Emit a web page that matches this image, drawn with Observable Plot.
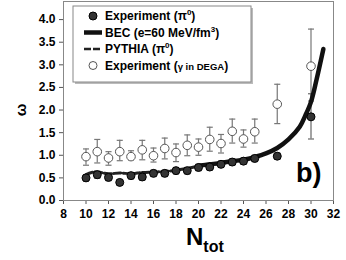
<!DOCTYPE html>
<html>
<head>
<meta charset="utf-8">
<script src="https://cdn.jsdelivr.net/npm/d3@7"></script>
<script src="https://cdn.jsdelivr.net/npm/@observablehq/plot@0.6"></script>
<style>
  html, body { margin: 0; padding: 0; background: #fff; }
  #chart { width: 346px; height: 260px; }
</style>
</head>
<body>
<div id="chart"></div>
<script>
// Experiment (pi0) — filled points
const nTot = [10, 11, 12, 13, 14, 15, 16, 17, 18, 19, 20, 21, 22, 23, 24, 25, 27, 30];
const expPi0 = [0.50, 0.57, 0.51, 0.40, 0.55, 0.52, 0.60, 0.60, 0.66, 0.66, 0.73, 0.74, 0.80, 0.85, 0.87, 0.93, 0.98, 1.85];
const expPi0Lo = [0.43, 0.49, 0.44, 0.34, 0.48, 0.45, 0.53, 0.53, 0.59, 0.59, 0.66, 0.67, 0.73, 0.78, 0.80, 0.86, 0.91, 1.36];
const expPi0Hi = [0.57, 0.65, 0.58, 0.46, 0.62, 0.59, 0.67, 0.67, 0.73, 0.73, 0.80, 0.81, 0.87, 0.92, 0.94, 1.00, 1.05, 2.36];

// Experiment (gamma in DEGA) — open points
const expGamma = [0.97, 1.08, 0.94, 1.08, 0.97, 1.12, 0.99, 1.15, 1.06, 1.22, 1.18, 1.35, 1.26, 1.53, 1.36, 1.52, 2.13, 2.97];
const expGammaLo = [0.78, 0.83, 0.78, 0.88, 0.90, 0.90, 0.85, 0.92, 0.86, 0.99, 1.00, 1.09, 1.05, 1.27, 1.18, 1.27, 1.70, 2.20];
const expGammaHi = [1.14, 1.35, 1.08, 1.33, 1.10, 1.33, 1.16, 1.38, 1.25, 1.45, 1.36, 1.62, 1.46, 1.80, 1.56, 1.80, 2.57, 3.79];

// BEC (e=60 MeV/fm^3) curve
const becN = [20, 21, 22, 23, 24, 25, 26, 27, 28, 29, 29.5, 30, 30.5, 31.1];
const becOmega = [0.77, 0.80, 0.83, 0.87, 0.90, 0.96, 1.04, 1.16, 1.35, 1.63, 1.88, 2.18, 2.68, 3.35];

// PYTHIA (pi0) dashed curve
const pythiaN = [10, 10.5, 11, 12, 13, 14, 15, 16, 17, 18, 19, 20];
const pythiaOmega = [0.57, 0.62, 0.63, 0.59, 0.61, 0.59, 0.62, 0.63, 0.64, 0.67, 0.71, 0.76];

const xTicks = [8, 10, 12, 14, 16, 18, 20, 22, 24, 26, 28, 30, 32];
const yTicks = [0, 0.5, 1.0, 1.5, 2.0, 2.5, 3.0, 3.5, 4.0];

const pi0 = nTot.map((n, i) => ({n, w: expPi0[i], lo: expPi0Lo[i], hi: expPi0Hi[i]}));
const gam = nTot.map((n, i) => ({n, w: expGamma[i], lo: expGammaLo[i], hi: expGammaHi[i]}));
const bec = becN.map((n, i) => ({n, w: becOmega[i]}));
const pyt = pythiaN.map((n, i) => ({n, w: pythiaOmega[i]}));

const capW = 0.27;
const FONT = "'Liberation Sans', Arial, sans-serif";

const plot = Plot.plot({
  width: 346,
  height: 260,
  marginLeft: 63,
  marginRight: 13,
  marginTop: 1,
  marginBottom: 60,
  style: {fontFamily: FONT, fontSize: "12px", fontWeight: "bold", color: "#000", background: "#fff"},
  x: {domain: [8, 32]},
  y: {domain: [0, 4.4]},
  marks: [
    Plot.axisY({ticks: yTicks, tickFormat: d3.format(".1f"), tickSize: 4, tickPadding: 4, label: null, stroke: "#555", fill: "#000"}),
    Plot.axisX({ticks: xTicks, tickFormat: d => d, tickSize: 4, tickPadding: 5, label: null, stroke: "#555", fill: "#000"}),
    Plot.frame({stroke: "#888", strokeWidth: 1}),
    // open error bars
    Plot.ruleX(gam, {x: "n", y1: "lo", y2: "hi", stroke: "#777", strokeWidth: 1.2}),
    Plot.link(gam, {x1: d => d.n - capW, x2: d => d.n + capW, y1: "hi", y2: "hi", stroke: "#777", strokeWidth: 1.2}),
    Plot.link(gam, {x1: d => d.n - capW, x2: d => d.n + capW, y1: "lo", y2: "lo", stroke: "#777", strokeWidth: 1.2}),
    // filled error bars
    Plot.ruleX(pi0, {x: "n", y1: "lo", y2: "hi", stroke: "#666", strokeWidth: 1.2}),
    Plot.link(pi0, {x1: d => d.n - capW, x2: d => d.n + capW, y1: "hi", y2: "hi", stroke: "#666", strokeWidth: 1.2}),
    Plot.link(pi0, {x1: d => d.n - capW, x2: d => d.n + capW, y1: "lo", y2: "lo", stroke: "#666", strokeWidth: 1.2}),
    // PYTHIA dashed
    Plot.line(pyt, {x: "n", y: "w", stroke: "#222", strokeWidth: 3, strokeDasharray: "7,2.5", curve: "catmull-rom"}),
    // BEC thick
    Plot.line(bec, {x: "n", y: "w", stroke: "#111", strokeWidth: 4.5, curve: "catmull-rom"}),
    // points
    Plot.dot(gam, {x: "n", y: "w", r: 4.3, fill: "#fff", stroke: "#555", strokeWidth: 1}),
    Plot.dot(pi0, {x: "n", y: "w", r: 4, fill: "#333", stroke: "#000", strokeWidth: 1})
  ]
});

document.getElementById("chart").appendChild(plot);

const svg = d3.select(plot);

// Legend box
const lg = svg.append("g").attr("font-family", FONT).attr("font-weight", "bold").attr("font-size", 12)
  .attr("text-anchor", "start");
lg.append("rect").attr("x", 75).attr("y", 8).attr("width", 178).attr("height", 76).attr("fill", "#bbb");
lg.append("rect").attr("x", 73).attr("y", 6).attr("width", 178).attr("height", 76)
  .attr("fill", "#fff").attr("stroke", "#888").attr("stroke-width", 1);

const rows = [16, 32.5, 49, 65.5];
lg.append("circle").attr("cx", 93).attr("cy", rows[0]).attr("r", 4).attr("fill", "#333").attr("stroke", "#000");
lg.append("line").attr("x1", 84).attr("x2", 102).attr("y1", rows[1]).attr("y2", rows[1]).attr("stroke", "#111").attr("stroke-width", 4.5);
lg.append("line").attr("x1", 84).attr("x2", 102).attr("y1", rows[2]).attr("y2", rows[2]).attr("stroke", "#222").attr("stroke-width", 2.5).attr("stroke-dasharray", "7,2");
lg.append("circle").attr("cx", 93).attr("cy", rows[3]).attr("r", 4).attr("fill", "#fff").attr("stroke", "#555");

const t1 = lg.append("text").attr("x", 105).attr("y", rows[0] + 4.3);
t1.append("tspan").text("Experiment (π");
t1.append("tspan").attr("font-size", 8).attr("dy", -5).text("0");
t1.append("tspan").attr("dy", 5).text(")");

const t2 = lg.append("text").attr("x", 105).attr("y", rows[1] + 4.3);
t2.append("tspan").text("BEC (e=60 MeV/fm");
t2.append("tspan").attr("font-size", 8).attr("dy", -5).text("3");
t2.append("tspan").attr("dy", 5).text(")");

const t3 = lg.append("text").attr("x", 105).attr("y", rows[2] + 4.3);
t3.append("tspan").text("PYTHIA (π");
t3.append("tspan").attr("font-size", 8).attr("dy", -5).text("0");
t3.append("tspan").attr("dy", 5).text(")");

const t4 = lg.append("text").attr("x", 105).attr("y", rows[3] + 4.3);
t4.append("tspan").text("Experiment (");
t4.append("tspan").attr("font-size", 9.5).text("γ in DEGA");
t4.append("tspan").text(")");

// panel label
svg.append("text").attr("x", 296).attr("y", 182).attr("text-anchor", "start").attr("font-family", FONT).attr("font-weight", "bold")
  .attr("font-size", 27).text("b)");

// y label
svg.append("text").attr("transform", "translate(26,110) rotate(-90)").attr("text-anchor", "middle")
  .attr("font-family", FONT).attr("font-weight", "bold").attr("font-size", 15).text("ω");

// x label
const xl = svg.append("text").attr("x", 186).attr("y", 245).attr("text-anchor", "start").attr("font-family", FONT).attr("font-weight", "bold").attr("font-size", 24);
xl.append("tspan").text("N");
xl.append("tspan").attr("font-size", 16).attr("dy", 7).text("tot");
</script>
</body>
</html>
